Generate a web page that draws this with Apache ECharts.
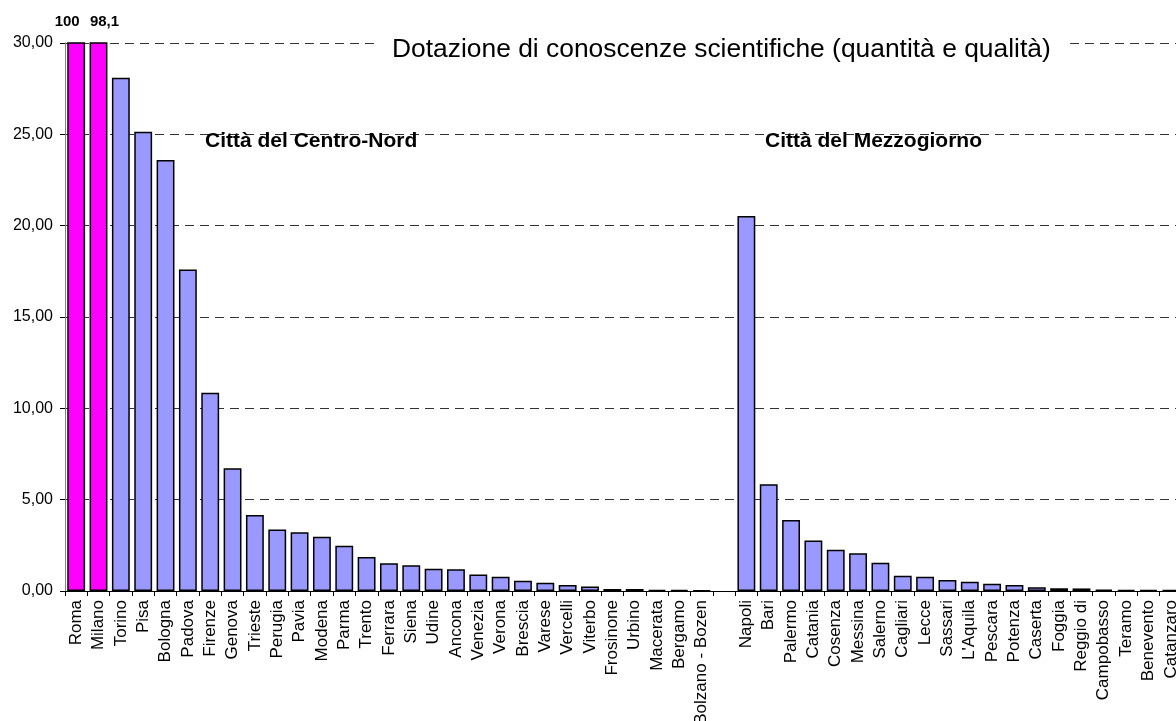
<!DOCTYPE html>
<html>
<head>
<meta charset="utf-8">
<script src="https://cdn.jsdelivr.net/npm/echarts@6/dist/echarts.min.js"></script>
<style>
html,body{margin:0;padding:0;background:#fff;}
#main{width:1176px;height:721px;}
</style>
</head>
<body>
<div id="main"></div>
<script>
const categories = ["Roma","Milano","Torino","Pisa","Bologna","Padova","Firenze","Genova","Trieste","Perugia","Pavia","Modena","Parma","Trento","Ferrara","Siena","Udine","Ancona","Venezia","Verona","Brescia","Varese","Vercelli","Viterbo","Frosinone","Urbino","Macerata","Bergamo","Bolzano - Bozen","","Napoli","Bari","Palermo","Catania","Cosenza","Messina","Salerno","Cagliari","Lecce","Sassari","L'Aquila","Pescara","Potenza","Caserta","Foggia","Reggio di","Campobasso","Teramo","Benevento","Catanzaro"];
const values = [100,98.1,28.1,25.14,23.59,17.6,10.85,6.72,4.16,3.36,3.21,2.97,2.48,1.86,1.52,1.41,1.22,1.19,0.91,0.78,0.56,0.45,0.33,0.24,0.11,0.11,0.06,0.06,0.04,null,20.53,5.84,3.89,2.77,2.26,2.06,1.55,0.84,0.78,0.60,0.51,0.40,0.33,0.20,0.15,0.14,0.08,0.06,0.06,0.06];
const highlighted = ["Roma","Milano"];
const yTicks = [0,5,10,15,20,25,30];
const titleText = "Dotazione di conoscenze scientifiche (quantità e qualità)";
const groupLabels = ["Città del Centro-Nord","Città del Mezzogiorno"];

const FONT = "'Liberation Sans', Arial, sans-serif";
const fmt = v => String(v).replace('.', ',');
const labelOffsets = { "Roma": [-9, 0], "Milano": [6, 0] };

const data = values.map((v, i) => {
  if (v === null) return '-';
  const hl = highlighted.includes(categories[i]);
  return {
    value: v,
    itemStyle: { color: hl ? '#FF00FF' : '#9999FF' },
    label: hl ? { show: true, position: 'top', distance: 13, offset: labelOffsets[categories[i]],
      formatter: p => fmt(p.value),
      fontFamily: FONT, fontWeight: 'bold', fontSize: 15, color: '#000' } : { show: false }
  };
});

const chart = echarts.init(document.getElementById('main'), null, { renderer: 'canvas' });
chart.setOption({
  animation: false,
  backgroundColor: '#fff',
  title: [
    { text: titleText, left: 378, top: 36, backgroundColor: '#fff', padding: [0, 14],
      textStyle: { fontFamily: FONT, fontSize: 26.4, lineHeight: 28, fontWeight: 'normal', color: '#000' } },
    { text: groupLabels[0], left: 205, top: 129, padding: 0,
      textStyle: { fontFamily: FONT, fontSize: 21, lineHeight: 24, fontWeight: 'bold', color: '#000' } },
    { text: groupLabels[1], left: 765, top: 129, padding: 0,
      textStyle: { fontFamily: FONT, fontSize: 21, lineHeight: 24, fontWeight: 'bold', color: '#000' } }
  ],
  grid: { left: 65, top: 43, width: 1117, height: 548, containLabel: false, outerBoundsMode: 'none' },
  xAxis: {
    type: 'category',
    data: categories,
    boundaryGap: true,
    axisLine: { lineStyle: { color: '#000', width: 1 } },
    axisTick: { show: true, alignWithLabel: false, length: 5, lineStyle: { color: '#000' }, interval: 0 },
    axisLabel: { interval: 0, rotate: 90, fontFamily: FONT, fontSize: 17, color: '#000', margin: 9 },
    splitLine: { show: false }
  },
  yAxis: {
    type: 'value',
    min: 0, max: 30, interval: 5,
    axisLine: { show: true, lineStyle: { color: '#808080', width: 1 } },
    axisTick: { show: true, length: 5, lineStyle: { color: '#000' } },
    axisLabel: { fontFamily: FONT, fontSize: 16, color: '#000', margin: 12,
      formatter: v => yTicks.includes(v) ? v.toFixed(2).replace('.', ',') : '' },
    splitLine: { show: true, lineStyle: { color: '#333', type: [9, 6], width: 1 } }
  },
  series: [{
    type: 'bar',
    data: data,
    barCategoryGap: '20%',
    clip: true,
    itemStyle: { borderColor: '#000', borderWidth: 1.5 }
  }]
});
</script>
</body>
</html>
